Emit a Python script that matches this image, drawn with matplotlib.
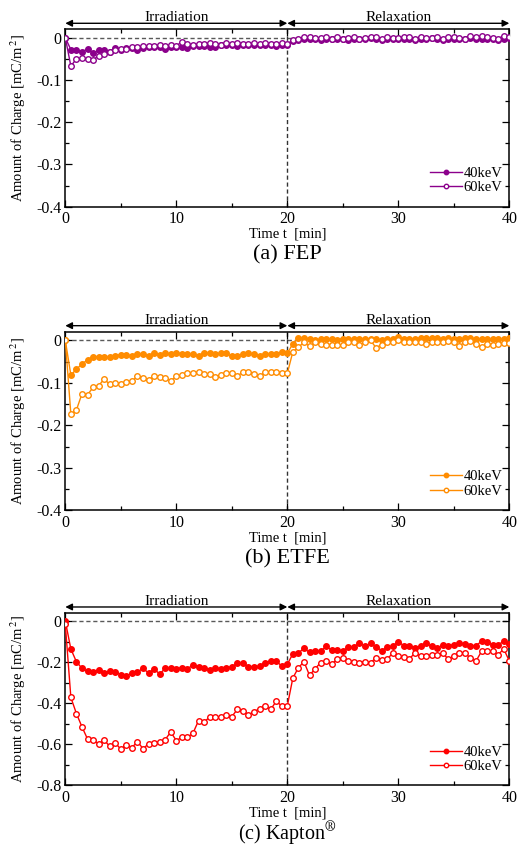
import numpy as np
import matplotlib
matplotlib.use("Agg")
import matplotlib.pyplot as plt
from matplotlib.ticker import MultipleLocator, FuncFormatter
from matplotlib.transforms import blended_transform_factory

plt.rcParams['font.family'] = ['Liberation Serif', 'DejaVu Serif']
plt.rcParams['mathtext.fontset'] = 'stix'
plt.rcParams['axes.unicode_minus'] = False

# ---------------- data ----------------
time_min = np.linspace(0, 40, 81)

fep_40 = [0, -0.028, -0.030, -0.033, -0.027, -0.037, -0.029, -0.029, -0.033, -0.025,
          -0.028, -0.025, -0.024, -0.028, -0.025, -0.023, -0.022, -0.022, -0.026, -0.022,
          -0.021, -0.023, -0.024, -0.020, -0.020, -0.019, -0.021, -0.022, -0.018, -0.017,
          -0.018, -0.020, -0.018, -0.017, -0.018, -0.016, -0.018, -0.017, -0.020, -0.018,
          -0.017,
          -0.008, -0.006, -0.004, -0.003, -0.003, -0.005, -0.002, -0.004, -0.003, -0.003,
          -0.005, -0.004, -0.002, -0.003, -0.001, -0.004, -0.006, -0.003, -0.004, -0.002,
          -0.003, -0.002, -0.005, -0.003, -0.004, -0.001, -0.003, -0.005, -0.004, -0.002,
          -0.003, -0.004, -0.001, -0.003, -0.002, -0.003, -0.004, -0.006, -0.002, -0.001]
fep_60 = [0, -0.067, -0.050, -0.049, -0.050, -0.052, -0.043, -0.038, -0.034, -0.030,
          -0.027, -0.026, -0.023, -0.022, -0.020, -0.020, -0.019, -0.017, -0.019, -0.018,
          -0.019, -0.010, -0.015, -0.016, -0.015, -0.014, -0.012, -0.015, -0.016, -0.013,
          -0.014, -0.012, -0.014, -0.014, -0.013, -0.015, -0.013, -0.014, -0.015, -0.012,
          -0.015,
          -0.005, -0.002, 0.001, 0.002, -0.001, 0.000, 0.003, -0.003, 0.001, -0.002,
          0.000, 0.001, -0.004, 0.000, 0.003, 0.001, -0.002, 0.002, 0.000, -0.001,
          0.002, 0.001, -0.002, 0.003, 0.000, -0.001, 0.002, -0.003, 0.001, 0.003,
          0.000, -0.002, 0.004, 0.001, 0.005, 0.002, 0.000, -0.002, 0.005, 0.001]

etfe_40 = [0, -0.082, -0.068, -0.056, -0.046, -0.039, -0.039, -0.039, -0.040, -0.036,
           -0.034, -0.035, -0.038, -0.032, -0.033, -0.037, -0.030, -0.034, -0.031, -0.032,
           -0.030, -0.032, -0.033, -0.033, -0.037, -0.030, -0.031, -0.032, -0.031, -0.031,
           -0.038, -0.036, -0.033, -0.031, -0.033, -0.037, -0.033, -0.033, -0.032, -0.028,
           -0.031,
           -0.008, 0.005, 0.005, 0.002, 0.000, 0.002, 0.002, 0.002, 0.000, 0.004,
           0.002, 0.002, 0.004, 0.004, 0.002, 0.004, 0.000, 0.002, 0.004, 0.008,
           0.004, 0.002, 0.004, 0.005, 0.005, 0.005, 0.005, 0.004, 0.005, 0.002,
           0.002, 0.005, 0.006, 0.002, 0.002, 0.002, 0.002, 0.002, 0.002, 0.006]
etfe_60 = [0, -0.174, -0.164, -0.126, -0.128, -0.111, -0.107, -0.091, -0.104, -0.100,
           -0.103, -0.097, -0.096, -0.085, -0.089, -0.093, -0.084, -0.086, -0.088, -0.095,
           -0.085, -0.082, -0.078, -0.078, -0.074, -0.080, -0.080, -0.086, -0.081, -0.076,
           -0.078, -0.084, -0.075, -0.074, -0.079, -0.085, -0.075, -0.075, -0.075, -0.076,
           -0.078,
           -0.027, -0.016, -0.005, -0.014, -0.005, -0.008, -0.010, -0.010, -0.012, -0.010,
           -0.005, -0.005, -0.010, -0.005, 0.000, -0.018, -0.010, -0.005, -0.005, 0.000,
           -0.004, -0.005, -0.005, -0.005, -0.008, -0.005, -0.005, -0.005, -0.002, -0.005,
           -0.013, -0.005, -0.002, -0.008, -0.016, -0.008, -0.010, -0.008, -0.006, -0.006]

kapton_40 = [0, -0.136, -0.198, -0.230, -0.245, -0.250, -0.236, -0.253, -0.245, -0.248,
             -0.261, -0.267, -0.253, -0.248, -0.230, -0.253, -0.233, -0.258, -0.230, -0.230,
             -0.233, -0.227, -0.233, -0.214, -0.222, -0.227, -0.238, -0.227, -0.233, -0.230,
             -0.222, -0.206, -0.205, -0.222, -0.222, -0.220, -0.203, -0.194, -0.195, -0.219,
             -0.211,
             -0.159, -0.155, -0.133, -0.152, -0.144, -0.148, -0.123, -0.141, -0.141, -0.145,
             -0.128, -0.128, -0.105, -0.123, -0.109, -0.125, -0.144, -0.128, -0.123, -0.100,
             -0.120, -0.120, -0.131, -0.123, -0.109, -0.123, -0.133, -0.116, -0.120, -0.116,
             -0.109, -0.111, -0.120, -0.120, -0.098, -0.102, -0.117, -0.117, -0.097, -0.113]
kapton_60 = [-0.016, -0.372, -0.450, -0.515, -0.574, -0.577, -0.599, -0.579, -0.610, -0.593,
             -0.624, -0.601, -0.616, -0.587, -0.621, -0.598, -0.593, -0.587, -0.577, -0.540,
             -0.582, -0.566, -0.566, -0.546, -0.485, -0.491, -0.468, -0.469, -0.465, -0.457,
             -0.465, -0.430, -0.438, -0.456, -0.441, -0.427, -0.413, -0.430, -0.391, -0.413,
             -0.413,
             -0.277, -0.227, -0.198, -0.264, -0.233, -0.202, -0.195, -0.209, -0.186, -0.180,
             -0.195, -0.198, -0.202, -0.198, -0.203, -0.178, -0.191, -0.186, -0.155, -0.170,
             -0.177, -0.183, -0.156, -0.170, -0.170, -0.167, -0.167, -0.155, -0.186, -0.170,
             -0.156, -0.156, -0.180, -0.195, -0.147, -0.148, -0.148, -0.163, -0.136, -0.194]

panels = [
    dict(s40=fep_40, s60=fep_60, color='#8B008B', ylim=(-0.4, 0.02), major=0.1,
         caption='(a) FEP'),
    dict(s40=etfe_40, s60=etfe_60, color='#FF8C00', ylim=(-0.4, 0.02), major=0.1,
         caption='(b) ETFE'),
    dict(s40=kapton_40, s60=kapton_60, color='#FF0000', ylim=(-0.8, 0.04), major=0.2,
         caption='(c) Kapton$^{\\circledR}$'),
]
phase_labels = ['Irradiation', 'Relaxation']
legend_labels = ['40keV', '60keV']

# axes rectangles in figure fraction (left, bottom, width, height)
rects = [(0.1244, 0.7568, 0.8457, 0.2087),
         (0.1244, 0.3996, 0.8457, 0.2101),
         (0.1244, 0.0760, 0.8457, 0.2030)]
caption_y = [0.700, 0.3425, None]

fig = plt.figure(figsize=(5.25, 8.5), dpi=100)

for i, (p, rect, cy) in enumerate(zip(panels, rects, caption_y)):
    ax = fig.add_axes(rect)
    c = p['color']
    ax.plot(time_min, p['s40'], '-o', color=c, lw=1.0, ms=4.0, mfc=c, mec=c,
            label=legend_labels[0], zorder=3)
    ax.plot(time_min, p['s60'], '-o', color=c, lw=1.0, ms=4.0, mfc='white', mec=c,
            mew=1.0, label=legend_labels[1], zorder=3)
    ax.axhline(0, color='0.35', lw=1.0, ls=(0, (3, 2)), zorder=1)
    ax.axvline(20, color='0.2', lw=1.0, ls=(0, (3, 2)), zorder=1)
    ax.set_xlim(0, 40)
    ax.set_ylim(*p['ylim'])
    ax.xaxis.set_major_locator(MultipleLocator(10))
    ax.xaxis.set_minor_locator(MultipleLocator(5))
    ax.yaxis.set_major_locator(MultipleLocator(p['major']))
    ax.yaxis.set_minor_locator(MultipleLocator(p['major'] / 2))
    ax.yaxis.set_major_formatter(FuncFormatter(
        lambda v, pos: '0' if abs(v) < 1e-9 else f'{v:.1f}'))
    ax.tick_params(which='both', direction='in', top=True, right=True,
                   labelsize=11.5, width=0.9, pad=3)
    ax.tick_params(which='major', length=5)
    ax.tick_params(which='minor', length=3)
    for sp in ax.spines.values():
        sp.set_linewidth(1.1)
    ax.set_xlabel('Time t  [min]', fontsize=10.5, labelpad=0.5)
    ax.set_ylabel('Amount of Charge [mC/m$^{\\,2}$]', fontsize=10.5, labelpad=6)

    ax.legend(loc='lower right', bbox_to_anchor=(0.985, 0.07), frameon=False,
              fontsize=10.5, handlelength=2.2, handletextpad=0.1,
              labelspacing=0.1, borderpad=0, borderaxespad=0, markerscale=0.8)

    tr = blended_transform_factory(ax.transData, ax.transAxes)
    for (x0, x1), lab in zip([(0, 20), (20, 40)], phase_labels):
        ax.annotate('', xy=(x0, 1.034), xytext=(x1, 1.034), xycoords=tr, textcoords=tr,
                    arrowprops=dict(arrowstyle='<|-|>', color='black', lw=1.0,
                                    shrinkA=0, shrinkB=0, mutation_scale=10),
                    annotation_clip=False)
        ax.text((x0 + x1) / 2, 1.045, lab, transform=tr, ha='center', va='baseline',
                fontsize=11)

    if cy is None:
        fig.text(0.547, 0.002, p['caption'], ha='center', va='bottom', fontsize=14.5)
    else:
        fig.text(0.547, cy, p['caption'], ha='center', va='center', fontsize=16)

fig.savefig('out.png', dpi=100)
